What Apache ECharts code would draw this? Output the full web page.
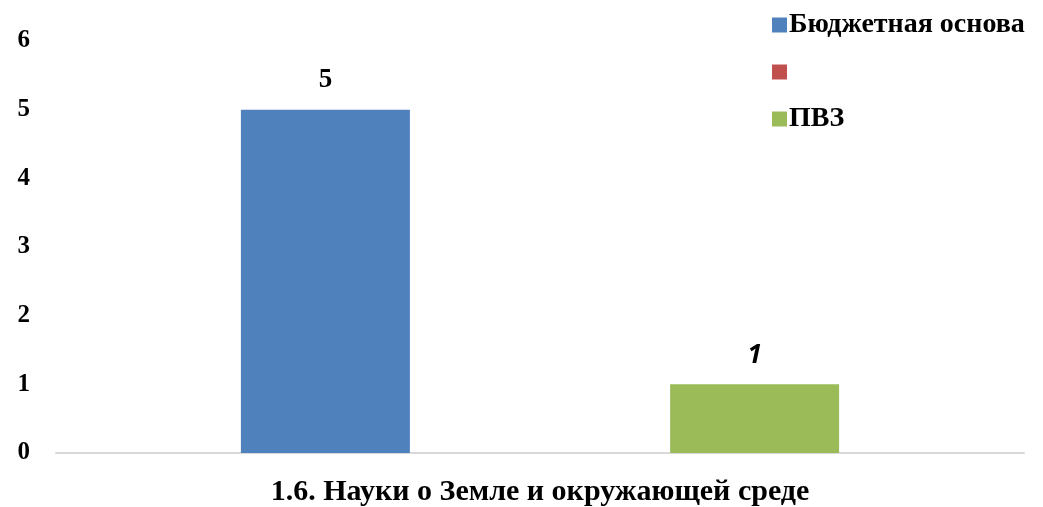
<!DOCTYPE html>
<html>
<head>
<meta charset="utf-8">
<script src="https://cdn.jsdelivr.net/npm/echarts@6/dist/echarts.min.js"></script>
<style>html,body{margin:0;padding:0;background:#fff}#c{width:1043px;height:507px}</style>
</head>
<body>
<div id="c"></div>
<script>
const categories = ['1.6. Науки о Земле и окружающей среде'];
const seriesNames = ['Бюджетная основа', ' ', 'ПВЗ'];
const budgetValues = [5];
const emptyValues = [null];
const pvzValues = [1];
const yTicks = [0, 1, 2, 3, 4, 5, 6];

const serif = '"Liberation Serif", "Times New Roman", serif';
const chart = echarts.init(document.getElementById('c'), null, {renderer: 'canvas'});
chart.setOption({
  animation: false,
  color: ['#4F81BD', '#C0504D', '#9BBB59'],
  legend: {
    orient: 'vertical',
    left: 767,
    top: 6,
    itemWidth: 15,
    itemHeight: 15,
    itemGap: 19,
    icon: 'rect',
    data: seriesNames,
    textStyle: {fontFamily: serif, fontWeight: 'bold', fontSize: 28, color: '#000', padding: [0, 0, 0, -3]}
  },
  grid: {left: 56, right: 19, top: 41, bottom: 48, containLabel: false},
  xAxis: {
    type: 'category',
    data: categories,
    axisLine: {lineStyle: {color: '#D9D9D9', width: 2}},
    axisTick: {show: false},
    axisLabel: {fontFamily: serif, fontWeight: 'bold', fontSize: 30, color: '#000', margin: 24}
  },
  yAxis: {
    type: 'value',
    min: yTicks[0],
    max: yTicks[yTicks.length - 1],
    interval: 1,
    splitLine: {show: false},
    axisLine: {show: false},
    axisTick: {show: false},
    axisLabel: {fontFamily: serif, fontWeight: 'bold', fontSize: 25, color: '#000', margin: 26}
  },
  series: [
    {
      name: seriesNames[0], type: 'bar', data: budgetValues,
      barGap: '27%', barCategoryGap: '38.2%',
      label: {show: true, position: 'top', distance: 16, fontFamily: serif, fontWeight: 'bold', fontSize: 27, color: '#000'}
    },
    {
      name: seriesNames[1], type: 'bar', data: emptyValues,
      barGap: '27%', barCategoryGap: '38.2%'
    },
    {
      name: seriesNames[2], type: 'bar', data: pvzValues,
      barGap: '27%', barCategoryGap: '38.2%',
      label: {show: true, position: 'top', distance: 16, fontFamily: '"Open Sans", "Liberation Sans", sans-serif', fontStyle: 'italic', fontWeight: 'bold', fontSize: 26, color: '#000'}
    }
  ]
});
</script>
</body>
</html>
